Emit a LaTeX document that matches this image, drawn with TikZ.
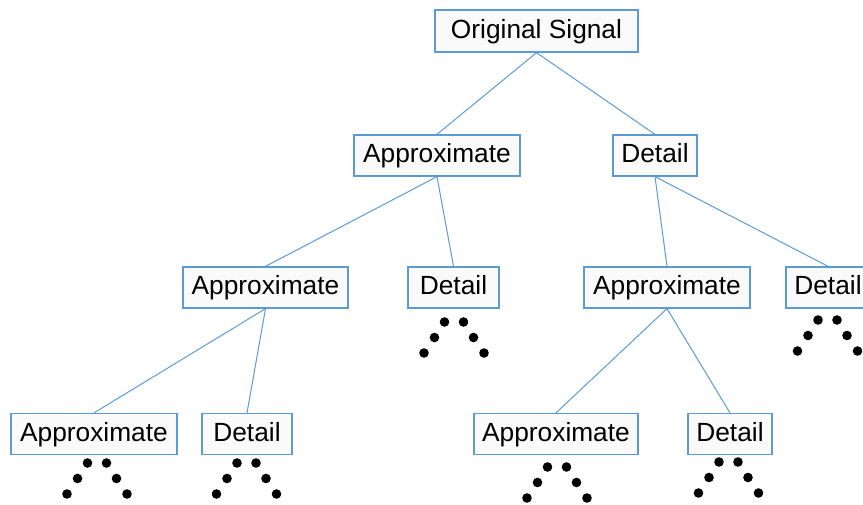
\documentclass[tikz,border=0pt]{standalone}
\usepackage{fontspec}
\setmainfont{Liberation Sans}
\definecolor{edgeblue}{RGB}{91,155,213}
\definecolor{boxfill}{RGB}{250,250,250}
% six dots in a caret shape, centred at #1, top row at #2
\newcommand\dotcaret[2]{%
  \foreach \dx/\dy in {-9.5/0,9.5/0,-19.5/15.5,19.5/15.5,-30/31,30/31}
    \fill ({#1+\dx},{#2+\dy}) circle (4.8pt);}
\begin{document}
\begin{tikzpicture}[x=1pt,y=-1pt,
  box/.style={draw=edgeblue, line width=1.3pt, fill=boxfill, minimum height=41pt,
    inner sep=0pt, text height=18pt, text depth=4pt,
    font=\fontsize{26.3}{30}\selectfont},
  link/.style={draw=edgeblue, line width=1pt}]
\useasboundingbox (0,0) rectangle (863,504);

% level 0
\node[box, minimum width=203pt, minimum height=42pt] (orig) at (536.5,31) {Original Signal};
% level 1
\node[box, minimum width=166pt] (a1) at (437,155.5) {Approximate};
\node[box, minimum width=84pt]  (d1) at (655,155.5) {Detail};
% level 2
\node[box, minimum width=165pt] (a2)  at (265.5,287.5) {Approximate};
\node[box, minimum width=91pt]  (d2)  at (453.5,287.5) {Detail};
\node[box, minimum width=166pt] (a2r) at (667,287.5) {Approximate};
\node[box, minimum width=84pt]  (d2r) at (828,287.5) {Detail};
% level 3
\node[box, minimum width=166pt] (a3)  at (94,434) {Approximate};
\node[box, minimum width=90pt]  (d3)  at (247,434) {Detail};
\node[box, minimum width=164pt] (a3r) at (556,434) {Approximate};
\node[box, minimum width=84pt]  (d3r) at (730,434) {Detail};

% tree edges
\draw[link] (orig.south) -- (a1.north);
\draw[link] (orig.south) -- (d1.north);
\draw[link] (a1.south) -- (a2.north);
\draw[link] (a1.south) -- (d2.north);
\draw[link] (d1.south) -- (a2r.north);
\draw[link] (d1.south) -- (d2r.north);
\draw[link] (a2.south) -- (a3.north);
\draw[link] (a2.south) -- (d3.north);
\draw[link] (a2r.south) -- (a3r.north);
\draw[link] (a2r.south) -- (d3r.north);

% continuation marks below the leaves
\dotcaret{454}{322}
\dotcaret{827.5}{320}
\dotcaret{97}{463}
\dotcaret{246.5}{463}
\dotcaret{557}{467}
\dotcaret{728.5}{462}
\end{tikzpicture}
\end{document}
